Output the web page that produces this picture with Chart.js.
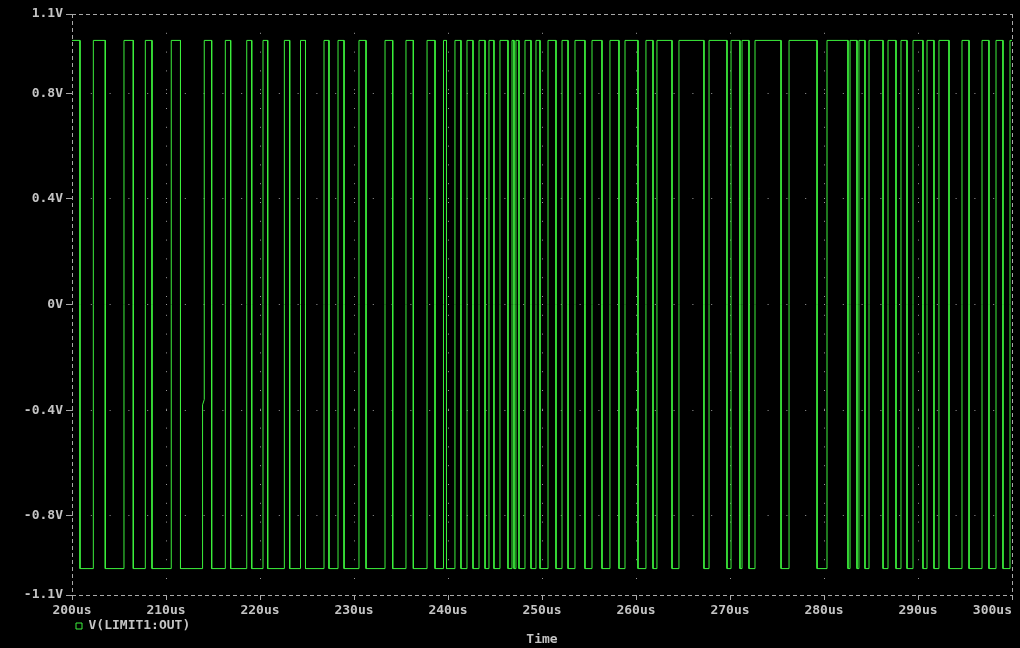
<!DOCTYPE html>
<html>
<head>
<meta charset="utf-8">
<script src="https://cdn.jsdelivr.net/npm/chart.js@4.4.1/dist/chart.umd.min.js"></script>
<style>
  html, body { margin: 0; padding: 0; background: #000; }
</style>
</head>
<body>
<canvas id="myChart" width="1020" height="648"></canvas>
<script>
"use strict";

// ===== data (time in us, volts) =====
const seriesLabel = "V(LIMIT1:OUT)";
const highV = 1.0;
const lowV = -1.0;

// start / end of every high pulse
const highStartUs = [
  200.00, 202.27, 205.53, 207.80, 210.56, 214.07, 216.31, 218.59, 220.32, 222.59,
  224.31, 226.81, 228.30, 230.53, 233.30, 235.53, 237.77, 239.52, 240.74, 242.02,
  243.30, 244.36, 245.53, 246.81, 247.23, 248.19, 249.36, 250.64, 252.13, 253.51,
  255.32, 257.23, 258.83, 261.06, 262.23, 264.57, 267.77, 270.11, 271.28, 272.66,
  276.28, 280.32, 282.77, 283.72, 284.79, 286.81, 288.19, 289.47, 290.96, 292.23,
  294.68, 296.81, 298.30, 299.79
];
const highEndUs = [
  200.85, 203.54, 206.52, 208.51, 211.54, 214.86, 216.88, 219.12, 220.82, 223.16,
  224.84, 227.34, 228.94, 231.28, 234.12, 236.31, 238.62, 239.84, 241.38, 242.66,
  243.94, 244.89, 246.38, 247.02, 247.55, 248.83, 249.79, 251.49, 252.77, 254.57,
  256.38, 258.19, 260.21, 261.81, 263.83, 267.23, 269.68, 271.06, 272.02, 275.43,
  279.26, 282.55, 283.51, 284.36, 286.28, 287.66, 288.83, 290.53, 291.70, 293.30,
  295.43, 297.55, 299.04, 300.00
];

// small step on the rising edge of pulse #6
const glitchPulse = 5;
const glitchUs = [213.89, 214.07];
const glitchV = [-0.38, -0.36];

const xTicks = [200, 210, 220, 230, 240, 250, 260, 270, 280, 290, 300];
const xTickLabels = ["200us", "210us", "220us", "230us", "240us", "250us",
  "260us", "270us", "280us", "290us", "300us     "];
const yTicks = [-1.1, -0.8, -0.4, 0, 0.4, 0.8, 1.1];
const yTickLabels = ["-1.1V", "-0.8V", "-0.4V", "0V", "0.4V", "0.8V", "1.1V"];

// ===== build the trace =====
const xMin = xTicks[0], xMax = xTicks[xTicks.length - 1];
const yMin = yTicks[0], yMax = yTicks[yTicks.length - 1];
const points = [];
highStartUs.forEach((t0, i) => {
  const t1 = highEndUs[i];
  if (t0 > xMin) {
    if (i === glitchPulse) {
      points.push({ x: glitchUs[0], y: lowV });
      glitchUs.forEach((t, k) => points.push({ x: t, y: glitchV[k] }));
    } else {
      points.push({ x: t0, y: lowV });
    }
  }
  points.push({ x: t0, y: highV }, { x: t1, y: highV });
  if (t1 < xMax) points.push({ x: t1, y: lowV });
});

const TEXT = "#c4c4c4";
const FRAME = "#a8a8a8";
const DOTS = "#9a9a9a";
const FONT = { family: "'DejaVu Sans Mono', monospace", size: 13, weight: "bold" };

const isEdge = (ctx, lo, hi) => ctx.tick && (ctx.tick.value === lo || ctx.tick.value === hi);

Chart.defaults.font.family = FONT.family;
Chart.defaults.color = TEXT;

new Chart(document.getElementById("myChart").getContext("2d"), {
  type: "line",
  data: {
    datasets: [{
      label: seriesLabel,
      data: points,
      borderColor: "#3cf03c",
      backgroundColor: "rgba(0,0,0,0)",
      borderWidth: 1,
      pointRadius: 0,
      tension: 0,
      fill: false
    }]
  },
  options: {
    responsive: false,
    animation: false,
    events: [],
    layout: { padding: { top: 14, right: 8, left: 0, bottom: 0 } },
    plugins: {
      tooltip: { enabled: false },
      legend: {
        display: true,
        position: "bottom",
        align: "start",
        fullSize: false,
        labels: { boxWidth: 6, boxHeight: 6, padding: 4, color: TEXT, font: FONT }
      },
      title: {
        display: true,
        position: "bottom",
        fullSize: false,
        text: "Time",
        color: TEXT,
        font: { family: FONT.family, size: 13, weight: "bold", lineHeight: 1 },
        padding: { top: -9, bottom: 1.5 }
      }
    },
    scales: {
      x: {
        type: "linear",
        min: xMin,
        max: xMax,
        afterBuildTicks: s => { s.ticks = xTicks.map(v => ({ value: v })); },
        afterFit: s => { s.height = 20.5; s.paddingLeft = 0; s.paddingRight = 0; },
        ticks: {
          autoSkip: false,
          maxRotation: 0,
          padding: 3,
          color: TEXT,
          font: FONT,
          callback: (v, i) => xTickLabels[i]
        },
        grid: {
          color: ctx => isEdge(ctx, xMin, xMax) ? FRAME : DOTS,
          lineWidth: 1,
          tickLength: 5,
          tickColor: FRAME,
          tickBorderDash: []
        },
        border: {
          display: false,
          dash: ctx => isEdge(ctx, xMin, xMax) ? [4, 3] : [1, 17.8]
        }
      },
      y: {
        type: "linear",
        min: yMin,
        max: yMax,
        afterBuildTicks: s => { s.ticks = yTicks.map(v => ({ value: v })); },
        afterFit: s => { s.width = 72; },
        ticks: {
          padding: 3,
          color: TEXT,
          font: FONT,
          callback: (v, i) => yTickLabels[i]
        },
        grid: {
          color: ctx => isEdge(ctx, yMin, yMax) ? FRAME : DOTS,
          lineWidth: 1,
          tickLength: 6,
          tickColor: FRAME,
          tickBorderDash: []
        },
        border: {
          display: false,
          dash: ctx => isEdge(ctx, yMin, yMax) ? [4, 3] : [1, 17.8]
        }
      }
    }
  }
});
</script>
</body>
</html>
